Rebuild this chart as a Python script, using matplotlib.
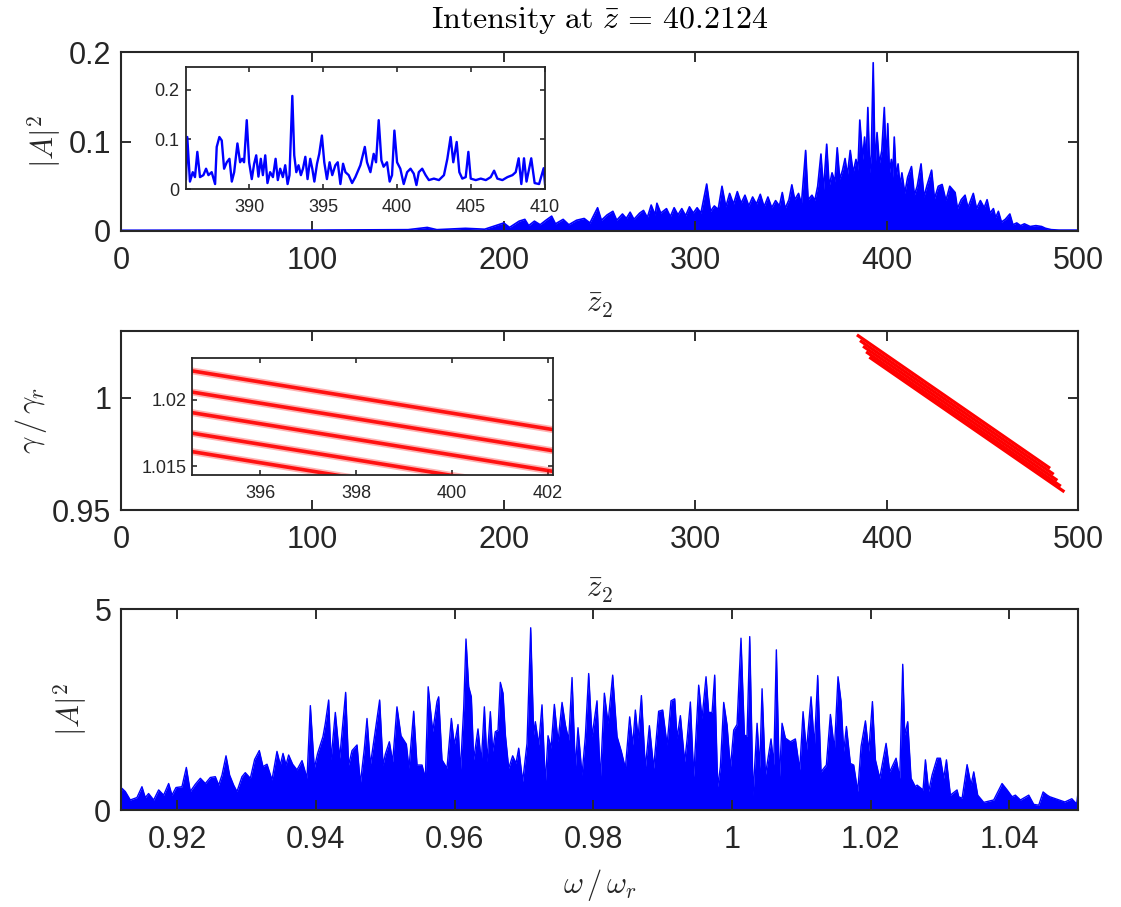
import matplotlib
matplotlib.use("Agg")
import matplotlib.pyplot as plt

plt.rcParams["mathtext.fontset"] = "cm"
plt.rcParams["font.family"] = ["Liberation Sans", "DejaVu Sans"]

# ---------------- data ----------------
title_text = r"$\mathrm{Intensity\ at\ }\bar{z}\,=\,40.2124$"

# top panel: |A|^2 versus z2 (silhouette of the dense signal)
top_z = [0, 50, 100, 150, 160, 165, 180, 190, 200, 203, 208, 211, 213, 216, 219, 222,
         225, 227, 231, 234, 238, 242, 245, 249, 251, 254, 257, 259, 262, 264, 266, 268,
         271, 273, 275, 277, 279, 280, 282, 285, 287, 289, 291, 293, 295, 297, 299, 301,
         303, 306, 308, 310, 312, 314, 316, 318, 320, 322, 324, 326, 328, 330, 332, 334,
         336, 338, 340, 342, 344, 345.5, 347, 349, 350.5, 352, 354, 355.5, 357.7, 359, 361,
         362.5, 364, 365.7, 367, 368.7, 370, 371.5, 373, 374.2, 375.5, 377, 378.3, 379.5,
         381, 382.5, 384, 385, 386, 387.5, 388.5, 389.3, 390.2, 391.2, 392, 393, 394, 395,
         396.2, 397.5, 398.8, 399.8, 400.6, 401.5, 402.5, 403.2, 404, 405, 406, 407, 408,
         409.5, 411, 413, 414.5, 416, 418, 419.5, 421, 423.5, 425, 427, 429, 431, 433,
         435.8, 437, 439, 441, 442.5, 445.3, 447, 449, 451, 452.5, 454, 455.8, 457, 458.4,
         460, 462, 464.4, 466, 468, 470, 472, 475, 478, 481, 483, 486, 490, 500]
top_v = [0.0008, 0.001, 0.001, 0.0015, 0.004, 0.0015, 0.003, 0.002, 0.009, 0.004, 0.011,
         0.013, 0.006, 0.011, 0.007, 0.012, 0.0166, 0.008, 0.013, 0.007, 0.012, 0.014, 0.009,
         0.026, 0.012, 0.018, 0.022, 0.012, 0.019, 0.014, 0.021, 0.013, 0.020, 0.023, 0.015,
         0.029, 0.018, 0.031, 0.020, 0.025, 0.016, 0.026, 0.018, 0.025, 0.017, 0.027, 0.020,
         0.026, 0.020, 0.0525, 0.022, 0.028, 0.024, 0.050, 0.027, 0.042, 0.030, 0.044, 0.031,
         0.040, 0.028, 0.038, 0.030, 0.041, 0.027, 0.038, 0.026, 0.034, 0.028, 0.043, 0.025,
         0.035, 0.0516, 0.035, 0.042, 0.030, 0.090, 0.035, 0.040, 0.034, 0.050, 0.086, 0.045,
         0.097, 0.050, 0.065, 0.055, 0.093, 0.058, 0.068, 0.081, 0.062, 0.090, 0.065, 0.080,
         0.068, 0.124, 0.080, 0.105, 0.075, 0.138, 0.065, 0.085, 0.188, 0.070, 0.110, 0.075,
         0.090, 0.138, 0.075, 0.120, 0.065, 0.080, 0.060, 0.105, 0.060, 0.075, 0.050, 0.065,
         0.042, 0.060, 0.072, 0.040, 0.050, 0.075, 0.038, 0.050, 0.068, 0.036, 0.050, 0.052,
         0.034, 0.050, 0.043, 0.025, 0.035, 0.040, 0.026, 0.042, 0.025, 0.034, 0.026, 0.035,
         0.020, 0.025, 0.015, 0.022, 0.010, 0.013, 0.019, 0.007, 0.009, 0.006, 0.008, 0.005,
         0.006, 0.005, 0.003, 0.0015, 0.001, 0.001]

# top inset: zoom on 385.7 < z2 < 410
inset_z = [385.73, 385.82, 386.00, 386.19, 386.34, 386.50, 386.68, 386.91, 387.09, 387.25,
           387.47, 387.70, 387.81, 387.99, 388.15, 388.31, 388.49, 388.67, 388.83, 388.99,
           389.21, 389.39, 389.53, 389.66, 389.84, 390.00, 390.18, 390.34, 390.48, 390.63,
           390.79, 390.93, 391.09, 391.24, 391.42, 391.61, 391.79, 391.94, 392.10, 392.28,
           392.44, 392.60, 392.73, 392.92, 393.05, 393.19, 393.34, 393.50, 393.64, 393.80,
           393.95, 394.13, 394.27, 394.41, 394.59, 394.74, 394.92, 395.08, 395.26, 395.44,
           395.62, 395.83, 395.99, 396.17, 396.35, 396.51, 396.73, 396.96, 397.18, 397.52,
           397.82, 397.97, 398.20, 398.42, 398.58, 398.76, 398.94, 399.09, 399.32, 399.50,
           399.66, 399.82, 400.00, 400.22, 400.45, 400.68, 400.91, 401.13, 401.31, 401.47,
           401.70, 401.93, 402.15, 402.49, 402.83, 403.17, 403.40, 403.62, 403.80, 404.03,
           404.21, 404.41, 404.64, 404.82, 404.98, 405.32, 405.66, 406.00, 406.33, 406.56,
           406.78, 407.12, 407.46, 407.80, 408.02, 408.22, 408.40, 408.58, 408.75, 409.07,
           409.30, 409.60, 409.91, 410.00]
inset_v = [0.020, 0.105, 0.015, 0.034, 0.024, 0.075, 0.024, 0.028, 0.041, 0.028,
           0.034, 0.010, 0.085, 0.105, 0.098, 0.041, 0.054, 0.061, 0.015, 0.034,
           0.092, 0.054, 0.061, 0.054, 0.139, 0.054, 0.020, 0.051, 0.068, 0.025,
           0.061, 0.028, 0.068, 0.012, 0.034, 0.024, 0.061, 0.018, 0.041, 0.024,
           0.048, 0.010, 0.028, 0.188, 0.068, 0.034, 0.048, 0.028, 0.041, 0.065,
           0.020, 0.061, 0.041, 0.015, 0.051, 0.071, 0.108, 0.054, 0.020, 0.054,
           0.028, 0.048, 0.054, 0.010, 0.051, 0.034, 0.028, 0.012, 0.024, 0.048,
           0.085, 0.054, 0.034, 0.071, 0.054, 0.139, 0.058, 0.045, 0.054, 0.015,
           0.028, 0.118, 0.054, 0.041, 0.010, 0.034, 0.041, 0.031, 0.008, 0.034,
           0.041, 0.028, 0.018, 0.021, 0.018, 0.028, 0.061, 0.105, 0.054, 0.095,
           0.034, 0.021, 0.024, 0.075, 0.021, 0.018, 0.021, 0.018, 0.024, 0.037,
           0.021, 0.018, 0.024, 0.028, 0.034, 0.062, 0.010, 0.062, 0.015, 0.062,
           0.012, 0.010, 0.042, 0.010]

# middle panel: five particle stripes gamma/gamma_r versus z2 (start / end of each stripe)
band_z_start = [384.5, 386.1, 387.7, 389.3, 391.0]
band_g_start = [1.02815, 1.0256, 1.0231, 1.0206, 1.0182]
band_z_end = [485.4, 487.3, 489.2, 491.0, 492.9]
band_g_end = [0.9686, 0.9659, 0.9632, 0.9606, 0.9581]

# bottom panel: spectrum |A|^2 versus omega/omega_r (silhouette of the dense signal)
omega = [0.91196, 0.91205, 0.91253, 0.91325, 0.91421, 0.91493, 0.91541, 0.91589, 0.91662,
         0.91734, 0.91806, 0.91878, 0.91926, 0.91984, 0.92070, 0.92133, 0.92190, 0.92262,
         0.92335, 0.92407, 0.92479, 0.92551, 0.92599, 0.92647, 0.92705, 0.92757, 0.92815,
         0.92863, 0.92935, 0.92983, 0.93056, 0.93118, 0.93185, 0.93238, 0.93296, 0.93368,
         0.93440, 0.93488, 0.93527, 0.93570, 0.93608, 0.93666, 0.93728, 0.93801, 0.93873,
         0.93921, 0.93978, 0.94026, 0.94103, 0.94137, 0.94185, 0.94219, 0.94281, 0.94344,
         0.94430, 0.94473, 0.94522, 0.94594, 0.94642, 0.94699, 0.94738, 0.94786, 0.94844,
         0.94920, 0.94969, 0.95002, 0.95060, 0.95108, 0.95170, 0.95228, 0.95305, 0.95343,
         0.95411, 0.95459, 0.95531, 0.95579, 0.95620, 0.95685, 0.95747, 0.95771, 0.95819,
         0.95891, 0.95954, 0.95997, 0.96050, 0.96084, 0.96132, 0.96165, 0.96204, 0.96242,
         0.96276, 0.96338, 0.96386, 0.96430, 0.96468, 0.96516, 0.96550, 0.96588, 0.96627,
         0.96660, 0.96699, 0.96733, 0.96781, 0.96838, 0.96886, 0.96925, 0.96982, 0.97045,
         0.97098, 0.97141, 0.97165, 0.97213, 0.97261, 0.97309, 0.97348, 0.97391, 0.97439,
         0.97492, 0.97550, 0.97598, 0.97646, 0.97694, 0.97742, 0.97780, 0.97838, 0.97886,
         0.97934, 0.97982, 0.98054, 0.98102, 0.98160, 0.98213, 0.98280, 0.98343, 0.98405,
         0.98463, 0.98525, 0.98569, 0.98607, 0.98646, 0.98694, 0.98751, 0.98809, 0.98871,
         0.98943, 0.99001, 0.99064, 0.99121, 0.99174, 0.99208, 0.99256, 0.99318, 0.99352,
         0.99400, 0.99448, 0.99520, 0.99568, 0.99626, 0.99664, 0.99713, 0.99751, 0.99794,
         0.99833, 0.99881, 0.99929, 0.99977, 1.00025, 1.00073, 1.00130, 1.00179, 1.00217,
         1.00256, 1.00304, 1.00362, 1.00400, 1.00434, 1.00482, 1.00563, 1.00602, 1.00640,
         1.00683, 1.00722, 1.00770, 1.00842, 1.00914, 1.00977, 1.01025, 1.01073, 1.01140,
         1.01188, 1.01236, 1.01284, 1.01361, 1.01419, 1.01477, 1.01529, 1.01573, 1.01611,
         1.01650, 1.01707, 1.01755, 1.01813, 1.01861, 1.01924, 1.01972, 1.02025, 1.02068,
         1.02130, 1.02222, 1.02274, 1.02366, 1.02419, 1.02462, 1.02491, 1.02534, 1.02582,
         1.02644, 1.02669, 1.02755, 1.02789, 1.02837, 1.02885, 1.02957, 1.03005, 1.03053,
         1.03092, 1.03149, 1.03245, 1.03269, 1.03318, 1.03390, 1.03447, 1.03486, 1.03543,
         1.03630, 1.03774, 1.03894, 1.03967, 1.04039, 1.04086, 1.04159, 1.04279, 1.04351,
         1.04423, 1.04486, 1.04544, 1.04582, 1.04800, 1.04900, 1.04970, 1.04990]
spectrum = [0.45, 0.54, 0.46, 0.25, 0.31, 0.58, 0.31, 0.41, 0.25,
            0.50, 0.37, 0.66, 0.37, 0.56, 0.58, 1.06, 0.46, 0.64,
            0.79, 0.66, 0.81, 0.83, 0.62, 0.87, 1.35, 0.87, 0.62,
            0.46, 0.83, 0.93, 0.79, 1.26, 1.48, 1.08, 1.14, 0.75,
            1.46, 1.12, 1.41, 1.12, 1.37, 1.14, 1.00, 1.23, 0.79,
            2.60, 1.04, 1.41, 1.83, 2.16, 2.74, 1.25, 2.43, 1.29,
            2.93, 1.12, 1.48, 1.62, 0.66, 1.52, 2.28, 1.12, 1.81,
            2.74, 1.12, 1.39, 1.70, 1.20, 2.57, 1.85, 1.64, 1.04,
            2.46, 1.12, 1.12, 0.79, 3.07, 1.95, 2.70, 2.82, 1.25,
            1.04, 2.28, 1.62, 2.13, 0.95, 2.53, 4.26, 3.07, 2.82,
            1.25, 2.02, 1.20, 2.57, 1.20, 2.45, 1.46, 1.95, 1.99,
            3.18, 2.91, 1.87, 1.04, 1.35, 1.16, 1.54, 0.71, 1.66,
            4.54, 1.87, 2.20, 1.62, 2.62, 0.66, 1.85, 1.54, 2.63,
            1.70, 2.68, 2.12, 1.74, 3.30, 1.04, 2.05, 0.87, 1.83,
            3.40, 1.83, 2.72, 0.75, 2.91, 2.16, 3.36, 1.83, 1.46,
            1.04, 2.32, 1.62, 2.49, 1.79, 2.85, 1.04, 2.10, 1.04,
            2.46, 2.49, 1.62, 2.72, 2.77, 1.79, 2.35, 1.20, 1.74,
            2.69, 0.83, 3.11, 2.28, 3.32, 2.43, 2.43, 3.36, 0.58,
            1.08, 2.68, 2.12, 1.04, 1.99, 2.13, 4.28, 1.87, 1.83,
            4.32, 0.37, 2.16, 1.04, 3.02, 0.87, 1.77, 1.12, 3.99,
            0.75, 2.16, 1.79, 1.70, 1.77, 1.00, 2.45, 1.46, 2.82,
            1.58, 3.35, 0.95, 1.12, 2.38, 1.50, 3.32, 2.70, 1.46,
            2.08, 1.16, 1.12, 0.46, 1.58, 2.22, 1.46, 2.70, 1.25,
            0.79, 1.66, 0.95, 1.29, 0.79, 3.63, 1.87, 2.20, 0.79,
            0.58, 0.62, 0.50, 1.25, 0.46, 0.87, 1.29, 1.29, 0.79,
            1.25, 0.37, 0.50, 0.33, 0.29, 1.13, 0.62, 0.95, 0.37,
            0.19, 0.25, 0.66, 0.50, 0.33, 0.37, 0.25, 0.37, 0.14,
            0.12, 0.45, 0.37, 0.33, 0.20, 0.28, 0.15, 0.45]

# tick labels
z_ticks = [0, 100, 200, 300, 400, 500]
z_ticklabels = ["0", "100", "200", "300", "400", "500"]
top_yticks = [0, 0.1, 0.2]
top_yticklabels = ["0", "0.1", "0.2"]
mid_yticks = [0.95, 1.0]
mid_yticklabels = ["0.95", "1"]
bot_xticks = [0.92, 0.94, 0.96, 0.98, 1.0, 1.02, 1.04]
bot_xticklabels = ["0.92", "0.94", "0.96", "0.98", "1", "1.02", "1.04"]
bot_yticks = [0, 5]
bot_yticklabels = ["0", "5"]
in1_xticks = [390, 395, 400, 405, 410]
in1_xticklabels = ["390", "395", "400", "405", "410"]
in1_yticks = [0, 0.1, 0.2]
in1_yticklabels = ["0", "0.1", "0.2"]
in2_xticks = [396, 398, 400, 402]
in2_xticklabels = ["396", "398", "400", "402"]
in2_yticks = [1.015, 1.02]
in2_yticklabels = ["1.015", "1.02"]

# ---------------- figure ----------------
W, H = 1121, 907
fig = plt.figure(figsize=(W / 100, H / 100), dpi=100)
fig.patch.set_facecolor("white")

AXC = "#262626"
BLUE = (0, 0, 1)
RED = (1, 0, 0)


def rect(x0, y0, x1, y1):
    return [x0 / W, 1 - y1 / H, (x1 - x0) / W, (y1 - y0) / H]


def style(ax, fs, length, padx, pady, lw=1.5):
    ax.tick_params(direction="in", top=True, right=True, length=length, width=lw * 0.9,
                   labelsize=fs, colors=AXC)
    ax.tick_params(axis="x", pad=padx)
    ax.tick_params(axis="y", pad=pady)
    for s in ax.spines.values():
        s.set_linewidth(lw)
        s.set_color(AXC)


LABEL_FS = 22

# ---- top panel ----
ax1 = fig.add_axes(rect(121, 52, 1078, 231))
ax1.fill_between(top_z, 0, top_v, color=BLUE, lw=0)
ax1.plot(top_z, top_v, color=BLUE, lw=1.2)
ax1.set_xlim(0, 500)
ax1.set_ylim(0, 0.2)
ax1.set_xticks(z_ticks)
ax1.set_xticklabels(z_ticklabels)
ax1.set_yticks(top_yticks)
ax1.set_yticklabels(top_yticklabels)
style(ax1, 22, 7.2, 11, 7)
ax1.set_ylabel(r"$|A|^2$", fontsize=LABEL_FS, va="center", color=AXC)
ax1.yaxis.set_label_coords(-0.0805, 0.5)
ax1.set_xlabel(r"$\bar{z}_2$", fontsize=LABEL_FS, va="center", color=AXC)
ax1.xaxis.set_label_coords(0.5, -0.413)

in1 = fig.add_axes(rect(185.5, 66.7, 545, 189))
in1.set_facecolor("white")
in1.plot(inset_z, inset_v, color=BLUE, lw=1.7)
in1.set_xlim(385.7, 410)
in1.set_ylim(0, 0.247)
in1.set_xticks(in1_xticks)
in1.set_xticklabels(in1_xticklabels)
in1.set_yticks(in1_yticks)
in1.set_yticklabels(in1_yticklabels)
style(in1, 13, 3.6, 7, 4.5, lw=1.3)

# ---- middle panel ----
ax2 = fig.add_axes(rect(121, 330.7, 1078, 510))
for zs, gs, ze, ge in zip(band_z_start, band_g_start, band_z_end, band_g_end):
    ax2.plot([zs, ze], [gs, ge], color=RED, lw=2.3, solid_capstyle="butt")
ax2.set_xlim(0, 500)
ax2.set_ylim(0.95, 1.03)
ax2.set_xticks(z_ticks)
ax2.set_xticklabels(z_ticklabels)
ax2.set_yticks(mid_yticks)
ax2.set_yticklabels(mid_yticklabels)
style(ax2, 22, 7.2, 11, 7)
ax2.set_ylabel(r"$\gamma\,/\,\gamma_r$", fontsize=LABEL_FS, va="center", color=AXC)
ax2.yaxis.set_label_coords(-0.094, 0.5)
ax2.set_xlabel(r"$\bar{z}_2$", fontsize=LABEL_FS, va="center", color=AXC)
ax2.xaxis.set_label_coords(0.5, -0.446)

in2 = fig.add_axes(rect(192.1, 357.7, 552.5, 475))
in2.set_facecolor("white")
for zs, gs, ze, ge in zip(band_z_start, band_g_start, band_z_end, band_g_end):
    in2.plot([zs, ze], [gs, ge], color=RED, lw=5.0, alpha=0.3, solid_capstyle="butt")
    in2.plot([zs, ze], [gs, ge], color=RED, lw=2.6, alpha=0.9, solid_capstyle="butt")
in2.set_xlim(394.58, 402.1)
in2.set_ylim(1.01432, 1.0232)
in2.set_xticks(in2_xticks)
in2.set_xticklabels(in2_xticklabels)
in2.set_yticks(in2_yticks)
in2.set_yticklabels(in2_yticklabels)
style(in2, 13, 3.6, 7, 4, lw=1.3)

# ---- bottom panel ----
ax3 = fig.add_axes(rect(121, 609.3, 1078, 810))
ax3.fill_between(omega, 0, spectrum, color=BLUE, lw=0)
ax3.plot(omega, spectrum, color=BLUE, lw=1.0)
ax3.set_xlim(0.91191, 1.04989)
ax3.set_ylim(0, 5)
ax3.set_xticks(bot_xticks)
ax3.set_xticklabels(bot_xticklabels)
ax3.set_yticks(bot_yticks)
ax3.set_yticklabels(bot_yticklabels)
style(ax3, 22, 7.2, 11, 7)
ax3.set_ylabel(r"$|A|^2$", fontsize=LABEL_FS, va="center", color=AXC)
ax3.yaxis.set_label_coords(-0.0533, 0.5)
ax3.set_xlabel(r"$\omega\,/\,\omega_r$", fontsize=LABEL_FS, va="center", color=AXC)
ax3.xaxis.set_label_coords(0.5, -0.374)

fig.text(600 / W, 1 - 20 / H, title_text, fontsize=23, ha="center", va="center", color="black")

fig.savefig("out.png", dpi=100, facecolor="white")
